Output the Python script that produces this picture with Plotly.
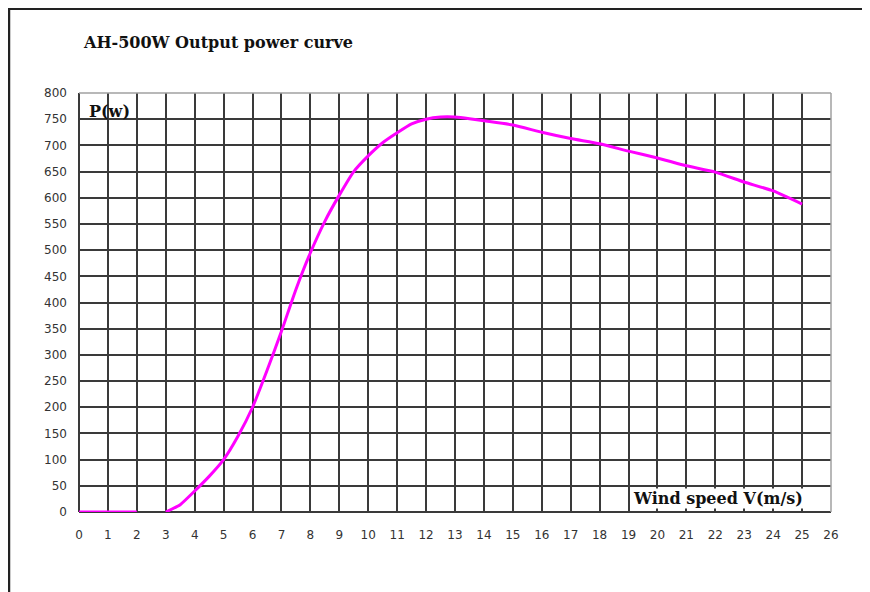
import plotly.graph_objects as go

# Wind speed (m/s) and output power (W)
wind_speed = [0, 1, 2, None, 3, 3.5, 4, 4.5, 5, 5.5, 6, 6.5, 7, 7.5, 8, 8.5, 9, 9.5,
              10, 10.5, 11, 11.5, 12, 12.5, 13, 13.5, 14, 15, 16, 17, 18, 19,
              20, 21, 22, 23, 24, 25]
power = [0, 0, 0, None, 0, 14, 40, 68, 100, 145, 200, 270, 345, 425, 495, 555, 605, 650,
         680, 705, 724, 741, 750, 754, 754, 751, 747, 739, 725, 713, 703, 689,
         676, 661, 649, 630, 613, 588]

x_ticks = list(range(0, 27))
y_ticks = list(range(0, 801, 50))

title_text = "AH-500W Output power curve"
y_label = "P(w)"
x_label = "Wind speed V(m/s)"

fig = go.Figure()
fig.add_trace(go.Scatter(
    x=wind_speed, y=power, mode="lines",
    line=dict(color="#FF00FF", width=3, shape="spline", smoothing=0.5),
    connectgaps=False, hoverinfo="skip", showlegend=False,
))

axis_common = dict(
    showgrid=True, gridcolor="#3a3a3a", gridwidth=1.5,
    zeroline=True, zerolinecolor="#3a3a3a", zerolinewidth=1.5,
    showline=False, ticks="",
    tickfont=dict(family="DejaVu Sans", size=12, color="#333333"),
)

fig.update_xaxes(range=[0, 26], tickvals=x_ticks, ticktext=[str(v) for v in x_ticks],
                 ticklabelstandoff=14, **axis_common)
fig.update_yaxes(range=[0, 800], tickvals=y_ticks, ticktext=[str(v) for v in y_ticks],
                 ticklabelstandoff=11, **axis_common)

serif = dict(family="DejaVu Serif", size=16, color="#111111")

fig.add_annotation(text="<b>" + title_text + "</b>", xref="paper", yref="paper",
                   x=0.003, y=1.12, xanchor="left", yanchor="middle",
                   showarrow=False, font=serif)
fig.add_annotation(text="<b>" + y_label + "</b>", xref="paper", yref="paper",
                   x=0.010, y=0.957, xanchor="left", yanchor="middle",
                   showarrow=False, font=serif)
fig.add_annotation(text="<b>" + x_label + "</b>", xref="paper", yref="paper",
                   x=0.964, y=0.033, xanchor="right", yanchor="middle",
                   showarrow=False, font=serif, bgcolor="white", borderpad=0)

# lighter top and right edges of the grid
fig.add_shape(type="line", xref="paper", yref="paper", x0=0, x1=1, y0=1, y1=1,
              line=dict(color="#a0a0a0", width=1.5))
fig.add_shape(type="line", xref="paper", yref="paper", x0=1, x1=1, y0=0, y1=1,
              line=dict(color="#a0a0a0", width=1.5))

# outer frame (top and left visible)
fig.add_shape(type="rect", xref="paper", yref="paper",
              x0=-0.0931, x1=1.3, y0=-0.5, y1=1.2013,
              line=dict(color="#222222", width=2.5), layer="above")

fig.update_layout(
    width=870, height=592,
    margin=dict(l=71, r=47, t=85, b=88),
    paper_bgcolor="white", plot_bgcolor="white",
    showlegend=False,
)

fig.write_html("out.html")
